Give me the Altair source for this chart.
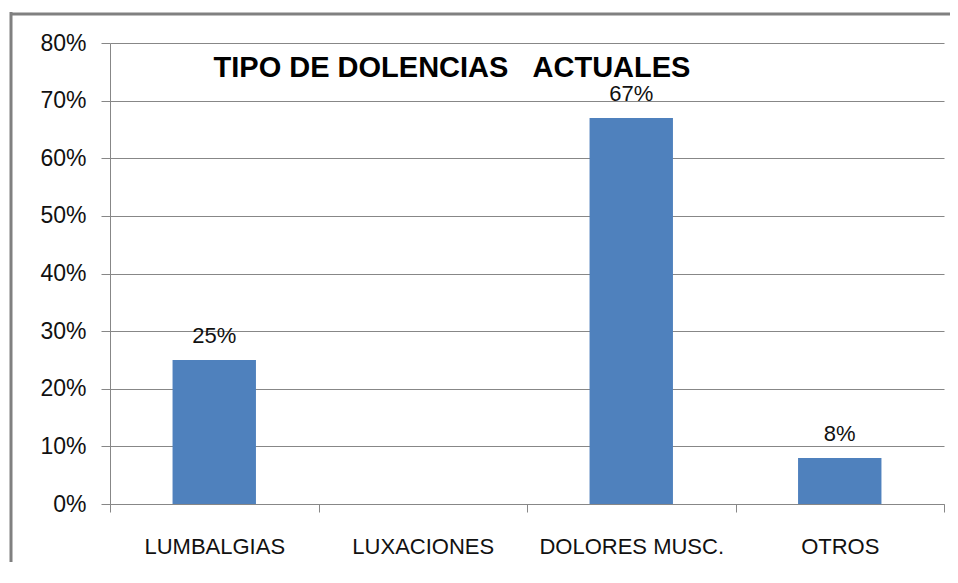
import altair as alt
import pandas as pd

categories = ["LUMBALGIAS", "LUXACIONES", "DOLORES MUSC.", "OTROS"]
values = [0.25, 0.0, 0.67, 0.08]
labels = ["25%", "", "67%", "8%"]
title_text = "TIPO DE DOLENCIAS   ACTUALES"
y_ticks = [0, 0.1, 0.2, 0.3, 0.4, 0.5, 0.6, 0.7, 0.8]

df = pd.DataFrame({"cat": categories, "val": values, "lab": labels})

FONT = "Liberation Sans"
GRAY = "#878787"

x_enc = alt.X("cat:N", sort=categories, title=None,
              scale=alt.Scale(paddingInner=0, paddingOuter=0),
              axis=alt.Axis(labelAngle=0, labelFont=FONT, labelFontSize=22,
                            labelColor="#111", labelPadding=24, tickSize=8,
                            tickBand="extent", tickColor=GRAY, domainColor=GRAY,
                            grid=False, labelBaseline="top", labelLimit=0))
y_enc = alt.Y("val:Q", title=None,
              scale=alt.Scale(domain=[0, 0.8], nice=False),
              axis=alt.Axis(values=y_ticks, format=".0%", labelFont=FONT,
                            labelFontSize=23, labelColor="#111", labelPadding=15,
                            tickSize=9, tickColor=GRAY, domainColor=GRAY,
                            gridColor=GRAY, grid=True))

base = alt.Chart(df)
bars = base.mark_bar(color="#4F81BD", width=alt.RelativeBandSize(0.4)).encode(x=x_enc, y=y_enc)
text = base.transform_filter("datum.val > 0").mark_text(
    font=FONT, fontSize=22, color="#111", baseline="alphabetic", dy=-17
).encode(x=alt.X("cat:N", sort=categories), y="val:Q", text="lab:N")

# keep the repeated spaces visible in SVG
display_title = title_text.replace("   ", " \u00a0\u00a0")
title = alt.Chart(alt.Data(values=[{"t": display_title}])).mark_text(
    font=FONT, fontSize=29, fontWeight="bold", color="#000", baseline="middle", align="center"
).encode(x=alt.value(342), y=alt.value(25), text="t:N")

one = alt.Data(values=[{}])
border_left = alt.Chart(one).mark_rule(color="#808080", strokeWidth=3).encode(
    x=alt.value(-99), y=alt.value(-31), y2=alt.value(600))
border_top = alt.Chart(one).mark_rule(color="#808080", strokeWidth=3).encode(
    x=alt.value(-100), x2=alt.value(840), y=alt.value(-29))

chart = alt.layer(border_left, border_top, bars, text, title).properties(
    width=834, height=461,
    autosize=alt.AutoSizeParams(type="none"),
    padding={"left": 102, "top": 35, "right": 6, "bottom": 58},
    background="white",
).configure_view(stroke=None)

chart.save("out.html", embed_options={"renderer": "svg", "actions": False})
